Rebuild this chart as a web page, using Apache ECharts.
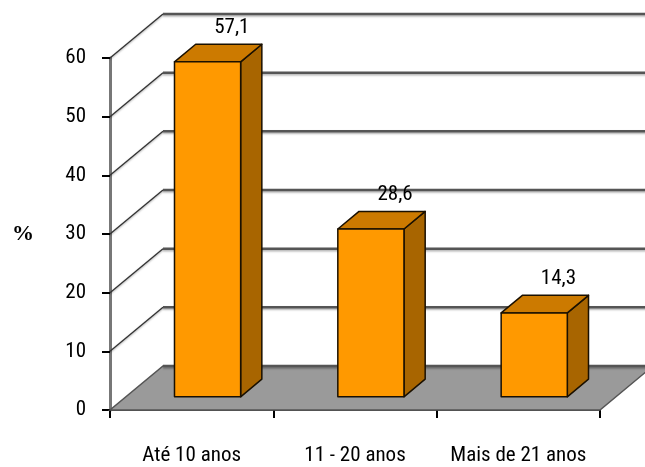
<!DOCTYPE html>
<html>
<head>
<meta charset="utf-8">
<script src="https://cdn.jsdelivr.net/npm/echarts@6/dist/echarts.min.js"></script>
<style>
html, body { margin: 0; padding: 0; background: #fff; }
#grafico { width: 645px; height: 467px; }
</style>
</head>
<body>
<div id="grafico"></div>
<script>

var categorias = ['Até 10 anos', '11 - 20 anos', 'Mais de 21 anos'];
var percentuais = [57.1, 28.6, 14.3];
var rotulos = ['57,1', '28,6', '14,3'];
var ticksY = [0, 10, 20, 30, 40, 50, 60];

// profundidade do efeito 3D (px)
var DX = 53, DY = -44;
var fonte = '"Roboto Condensed", "Liberation Sans", sans-serif';

function desenhaFundo(params, api) {
	var n = categorias.length;
	var banda = api.size([1, 0])[0];
	var esq = api.coord([0, 0])[0] - banda / 2;
	var dir = api.coord([n - 1, 0])[0] + banda / 2;
	var y0 = api.coord([0, 0])[1];
	var filhos = [];

	// piso
	filhos.push({
		type: 'polygon',
		shape: { points: [[esq, y0], [dir, y0], [dir + DX, y0 + DY], [esq + DX, y0 + DY]] },
		style: { fill: '#9a9a9a', stroke: '#555', lineWidth: 1.5 }
	});

	for (var i = 0; i < ticksY.length; i++) {
		var y = api.coord([0, ticksY[i]])[1];
		if (ticksY[i] > 0) {
			filhos.push({
				type: 'line',
				shape: { x1: esq, y1: y, x2: esq + DX, y2: y + DY },
				style: { stroke: '#333', lineWidth: 1.3, shadowColor: 'rgba(0,0,0,0.35)', shadowBlur: 2, shadowOffsetY: 1 }
			});
		}
		filhos.push({
			type: 'line',
			shape: { x1: esq + DX, y1: y + DY, x2: dir + DX + 30, y2: y + DY },
			style: { stroke: '#555', lineWidth: 2.5, shadowColor: 'rgba(0,0,0,0.3)', shadowBlur: 2, shadowOffsetY: 1.5 }
		});
	}
	return { type: 'group', children: filhos };
}

function desenhaBarra(params, api) {
	var idx = api.value(0);
	var topo = api.coord([idx, api.value(1)]);
	var base = api.coord([idx, 0]);
	var banda = api.size([1, 0])[0];
	var w = banda * 0.405;
	var fx = DX * 0.3, fy = DY * 0.3;
	var bx = DX * 0.4, by = DY * 0.4;
	var x1 = topo[0] + fx - w / 2, x2 = x1 + w;
	var yt = topo[1] + fy, yb = base[1] + fy;
	var borda = { stroke: '#1a1000', lineWidth: 1.5, lineJoin: 'round' };

	return {
		type: 'group',
		children: [
			{
				type: 'polygon',
				shape: { points: [[x2, yt], [x2 + bx, yt + by], [x2 + bx, yb + by], [x2, yb]] },
				style: Object.assign({ fill: '#a86500' }, borda)
			},
			{
				type: 'polygon',
				shape: { points: [[x1, yt], [x2, yt], [x2 + bx, yt + by], [x1 + bx, yt + by]] },
				style: Object.assign({ fill: '#cc7a00' }, borda)
			},
			{
				type: 'rect',
				shape: { x: x1, y: yt, width: w, height: yb - yt },
				style: Object.assign({ fill: '#ff9900' }, borda)
			},
			{
				type: 'text',
				x: (x1 + x2) / 2 + bx + 3,
				y: yt + by - 6,
				style: {
					text: rotulos[params.dataIndex],
					fontFamily: fonte,
					fontSize: 21,
					fill: '#000',
					align: 'center',
					verticalAlign: 'bottom'
				}
			}
		]
	};
}

var myChart = echarts.init(document.getElementById('grafico'));

var option = {
	animation: false,
	grid: { left: 110, right: 45, top: 58, bottom: 57 },
	xAxis: {
		type: 'category',
		data: categorias,
		boundaryGap: true,
		axisLine: { show: true, lineStyle: { color: '#4a4a4a', width: 2 } },
		axisTick: { show: true, length: 8, lineStyle: { color: '#000', width: 2 } },
		axisLabel: { interval: 0, margin: 35, fontFamily: fonte, fontSize: 21, color: '#000' }
	},
	yAxis: {
		type: 'value',
		min: 0,
		max: 60,
		interval: 10,
		name: '%',
		nameLocation: 'middle',
		nameRotate: 0,
		nameGap: 76,
		nameTextStyle: { fontFamily: '"Liberation Serif", serif', fontWeight: 'bold', fontSize: 22, color: '#000' },
		axisLine: { show: true, lineStyle: { color: '#777', width: 3 } },
		axisTick: { show: true, length: 8, lineStyle: { color: '#000', width: 2 } },
		axisLabel: { margin: 24, fontFamily: fonte, fontSize: 21, color: '#000' },
		splitLine: { show: false }
	},
	series: [
		{
			type: 'custom',
			renderItem: desenhaFundo,
			data: [[0, 0]],
			z: 1,
			silent: true
		},
		{
			type: 'custom',
			renderItem: desenhaBarra,
			data: percentuais.map(function (v, i) { return [i, v]; }),
			encode: { x: 0, y: 1 },
			z: 3
		}
	]
};

myChart.setOption(option);
</script>
</body>
</html>
